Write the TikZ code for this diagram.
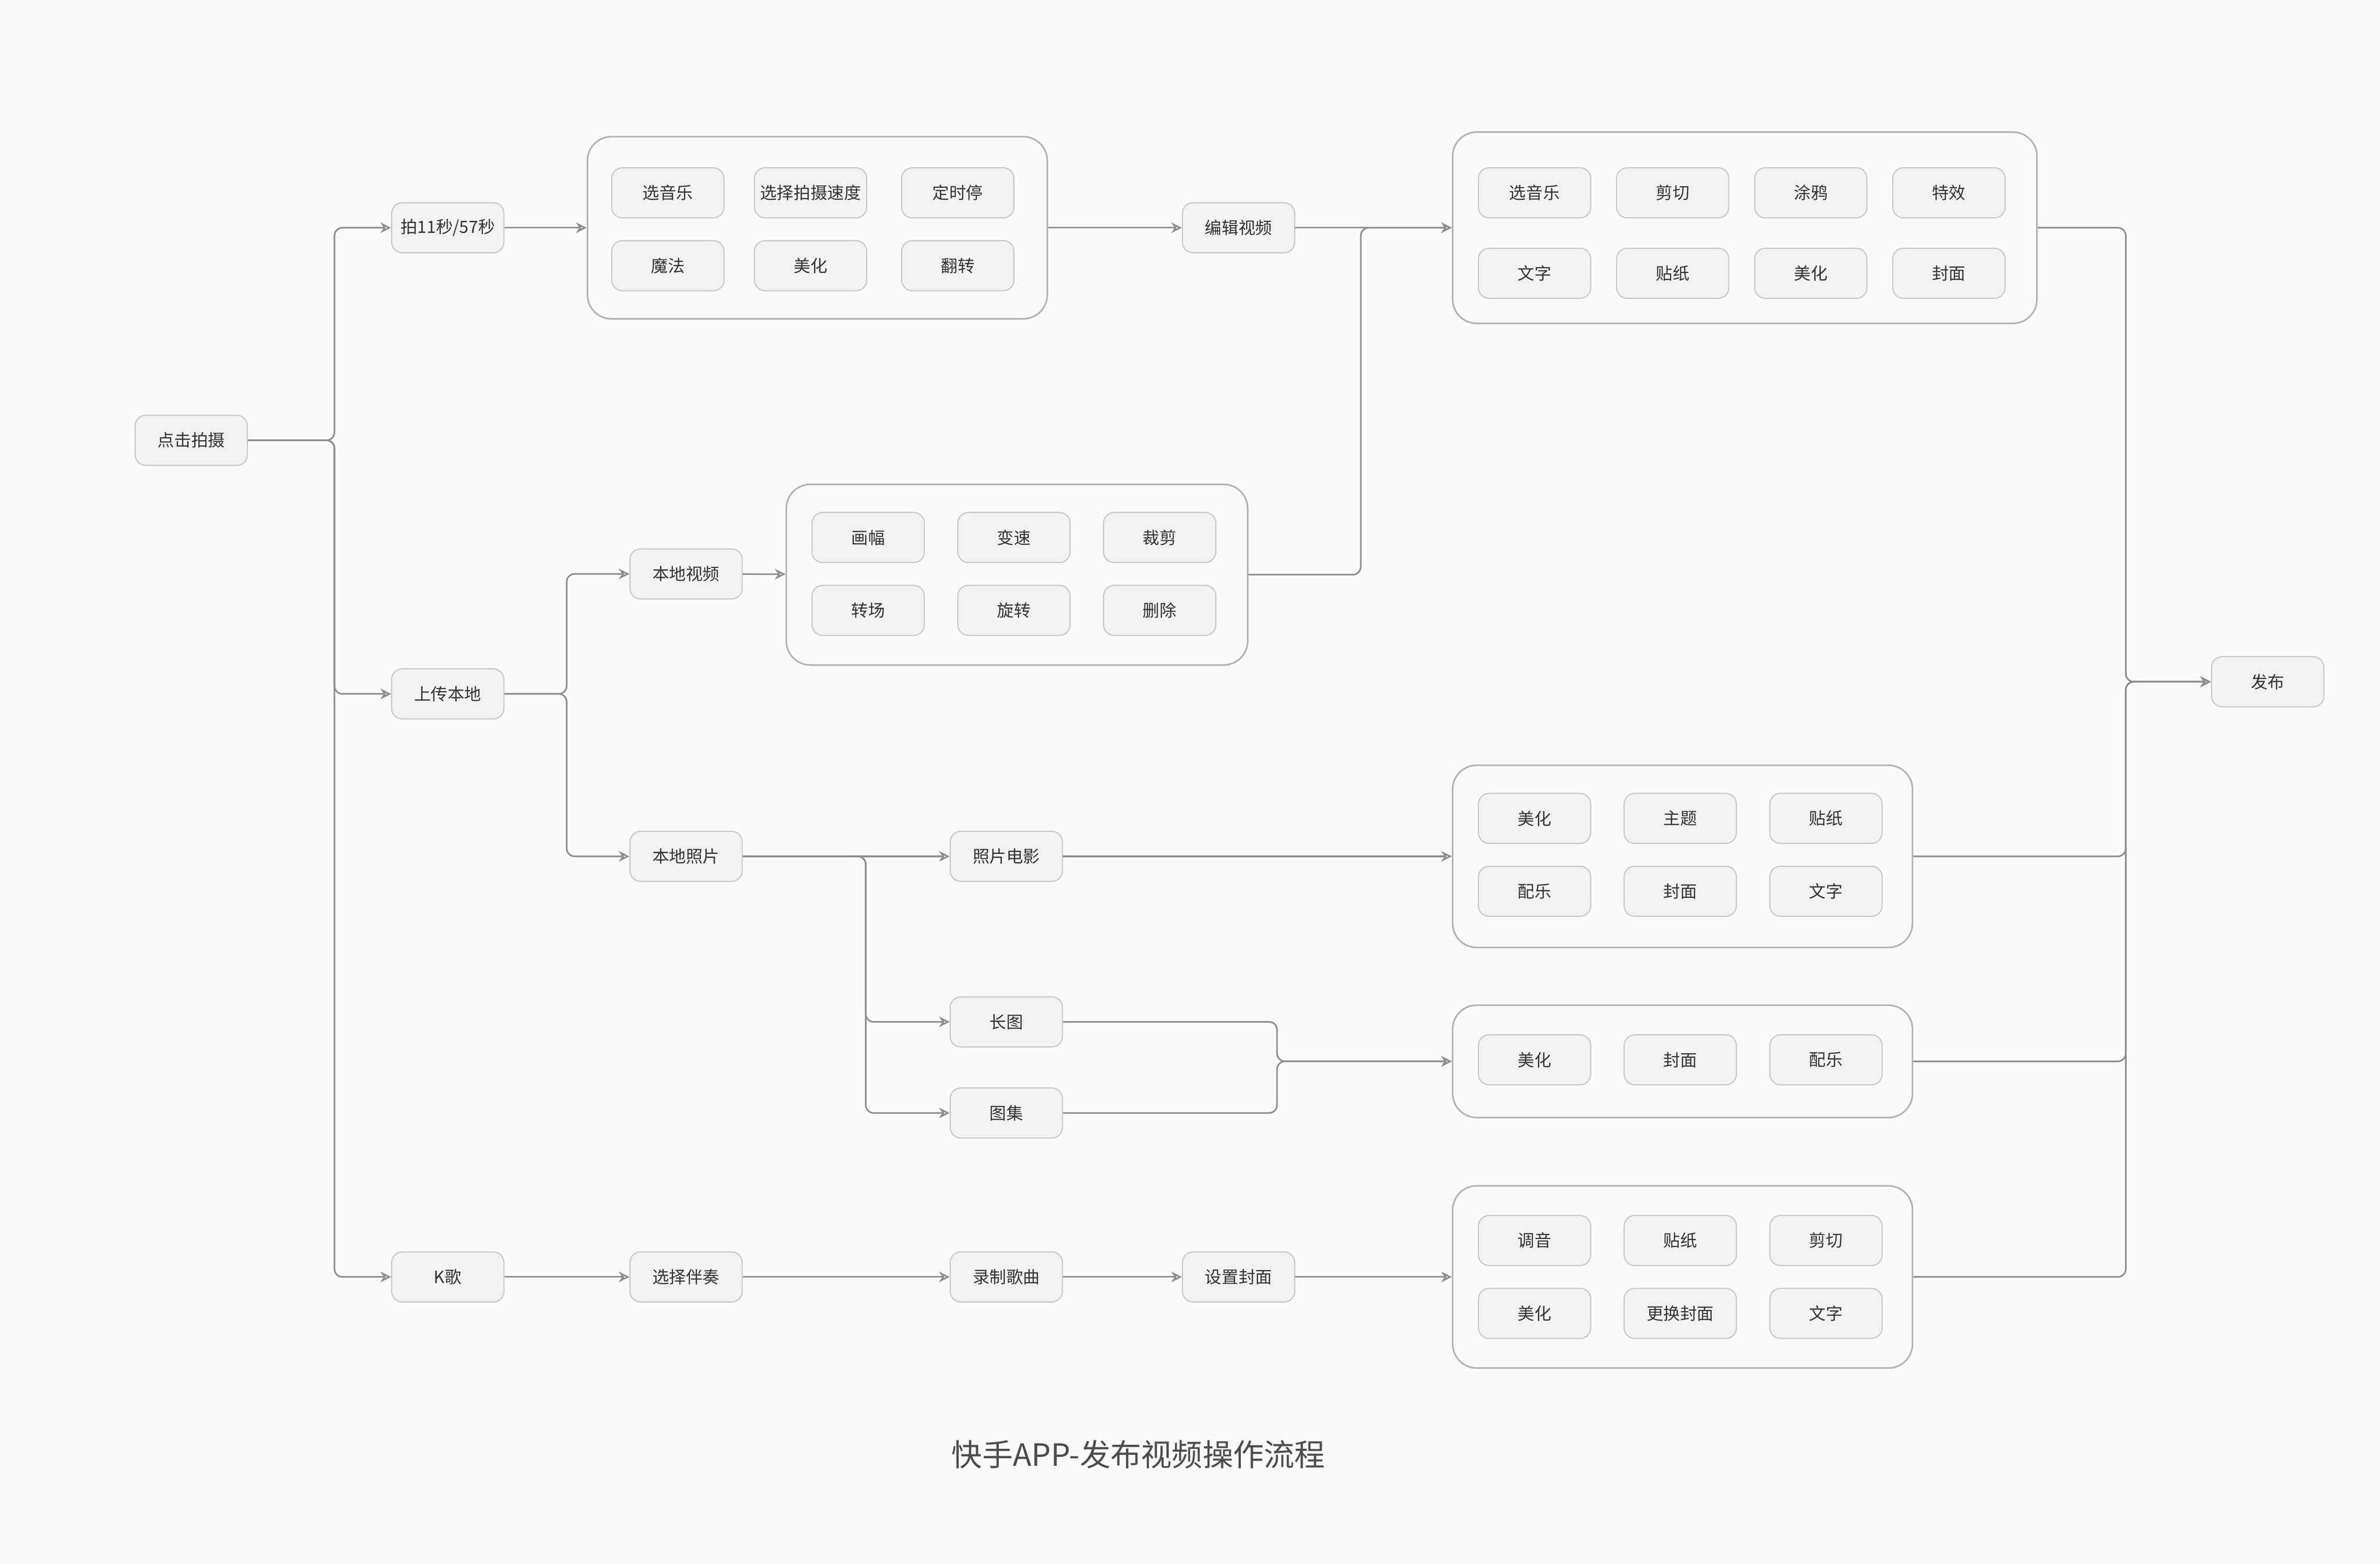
\documentclass[tikz,border=0pt]{standalone}
\usepackage{fontspec}
\setmainfont{Noto Sans CJK SC}
\usetikzlibrary{arrows.meta}
\definecolor{bg}{HTML}{FAFAFA}
\definecolor{boxfill}{HTML}{F2F2F2}
\definecolor{boxline}{HTML}{C6C6C6}
\definecolor{wire}{HTML}{8E8E8E}
\definecolor{txt}{HTML}{333333}
\tikzset{
  item/.style={draw=boxline,fill=boxfill,rounded corners=4pt,minimum width=1.48cm,minimum height=0.66cm,font=\fontsize{6.3}{7}\selectfont,text=txt,inner sep=1pt},
  group/.style={draw=boxline!90!black,fill=bg,rounded corners=9pt,line width=0.6pt},
  arr/.style={draw=wire,line width=0.6pt,rounded corners=3pt,-{Stealth[length=4pt,width=4pt,open]}},
  wire/.style={draw=wire,line width=0.6pt,rounded corners=3pt}
}
\begin{document}
\begin{tikzpicture}[x=0.02cm,y=-0.02cm]
\fill[bg] (0,0) rectangle (1568,1030);
\useasboundingbox (0,0) rectangle (1568,1030);
% groups
\node[group,minimum width=6.06cm,minimum height=2.4cm] (g1) at (538.5,150) {};
\node[group,minimum width=7.7cm,minimum height=2.52cm] (g2) at (1149.5,150) {};
\node[group,minimum width=6.08cm,minimum height=2.38cm] (g3) at (670,378.5) {};
\node[group,minimum width=6.06cm,minimum height=2.4cm] (g4) at (1108.5,564) {};
\node[group,minimum width=6.06cm,minimum height=1.48cm] (g5) at (1108.5,699) {};
\node[group,minimum width=6.06cm,minimum height=2.4cm] (g6) at (1108.5,841) {};
% main steps
\node[item] (shoot) at (126,290) {点击拍摄};
\node[item] (rec) at (295,150) {拍11秒/57秒};
\node[item] (upload) at (295,457) {上传本地};
\node[item] (ksong) at (295,841) {K歌};
\node[item] (edit) at (816,150) {编辑视频};
\node[item] (lvideo) at (452,378) {本地视频};
\node[item] (lphoto) at (452,564) {本地照片};
\node[item] (movie) at (663,564) {照片电影};
\node[item] (long) at (663,673) {长图};
\node[item] (album) at (663,733) {图集};
\node[item] (accomp) at (452,841) {选择伴奏};
\node[item] (sing) at (663,841) {录制歌曲};
\node[item] (cover) at (816,841) {设置封面};
\node[item] (pub) at (1494,449) {发布};
% group items
\node[item] at (440,127) {选音乐};
\node[item] at (534,127) {选择拍摄速度};
\node[item] at (631,127) {定时停};
\node[item] at (440,175) {魔法};
\node[item] at (534,175) {美化};
\node[item] at (631,175) {翻转};
\foreach \t [count=\i] in {选音乐,剪切,涂鸦,特效}
  \node[item] at ({1011+(\i-1)*91},127) {\t};
\foreach \t [count=\i] in {文字,贴纸,美化,封面}
  \node[item] at ({1011+(\i-1)*91},180) {\t};
\foreach \t [count=\i] in {画幅,变速,裁剪}
  \node[item] at ({572+(\i-1)*96},354) {\t};
\foreach \t [count=\i] in {转场,旋转,删除}
  \node[item] at ({572+(\i-1)*96},402) {\t};
\foreach \t [count=\i] in {美化,主题,贴纸}
  \node[item] at ({1011+(\i-1)*96},539) {\t};
\foreach \t [count=\i] in {配乐,封面,文字}
  \node[item] at ({1011+(\i-1)*96},587) {\t};
\foreach \t [count=\i] in {美化,封面,配乐}
  \node[item] at ({1011+(\i-1)*96},698) {\t};
\foreach \t [count=\i] in {调音,贴纸,剪切}
  \node[item] at ({1011+(\i-1)*96},817) {\t};
\foreach \t [count=\i] in {美化,更换封面,文字}
  \node[item] at ({1011+(\i-1)*96},865) {\t};
% connectors
\draw[arr] (shoot.east) -- ++(57,0) |- (rec.west);
\draw[arr] (shoot.east) -- ++(57,0) |- (upload.west);
\draw[arr] (shoot.east) -- ++(57,0) |- (ksong.west);
\draw[arr] (rec) -- (g1);
\draw[arr] (g1) -- (edit);
\draw[arr] (edit) -- (g2);
\draw[arr] (upload.east) -- ++(41,0) |- (lvideo.west);
\draw[arr] (upload.east) -- ++(41,0) |- (lphoto.west);
\draw[arr] (lvideo) -- (g3);
\draw[arr] (g3.east) -- ++(74,0) |- (g2.west);
\draw[arr] (lphoto) -- (movie);
\draw[arr] (lphoto.east) -- ++(81,0) |- (long.west);
\draw[arr] (lphoto.east) -- ++(81,0) |- (album.west);
\draw[arr] (movie) -- (g4);
\draw[arr] (long.east) -- ++(141,0) |- (g5.west);
\draw[arr] (album.east) -- ++(141,0) |- (g5.west);
\draw[arr] (ksong) -- (accomp);
\draw[arr] (accomp) -- (sing);
\draw[arr] (sing) -- (cover);
\draw[arr] (cover) -- (g6);
\draw[arr] (g2.east) -- ++(58,0) |- (pub.west);
\draw[arr] (g4.east) -- ++(140,0) |- (pub.west);
\draw[arr] (g5.east) -- ++(140,0) |- (pub.west);
\draw[arr] (g6.east) -- ++(140,0) |- (pub.west);
% title
\node[font=\fontsize{11.5}{13}\selectfont,text=black!70] (title) at (750,958) {快手APP-发布视频操作流程};
\end{tikzpicture}
\end{document}
